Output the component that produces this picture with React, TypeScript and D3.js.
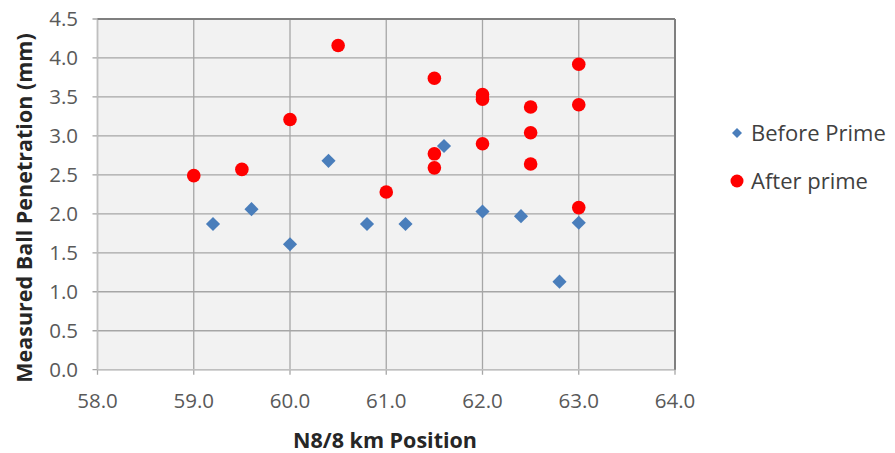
import React from "react";
import * as d3 from "d3";

const beforeX = [59.2, 59.6, 60.0, 60.4, 60.8, 61.2, 61.6, 62.0, 62.4, 62.8, 63.0];
const beforeY = [1.87, 2.06, 1.61, 2.68, 1.87, 1.87, 2.87, 2.03, 1.97, 1.13, 1.885];

const afterX = [59.0, 59.5, 60.0, 60.5, 61.0, 61.5, 61.5, 61.5, 62.0, 62.0, 62.0, 62.5, 62.5, 62.5, 63.0, 63.0, 63.0];
const afterY = [2.49, 2.57, 3.21, 4.16, 2.28, 3.74, 2.77, 2.59, 3.53, 3.47, 2.9, 3.37, 3.04, 2.64, 3.92, 3.4, 2.08];

const xTicks = [58, 59, 60, 61, 62, 63, 64];
const yTicks = [0, 0.5, 1, 1.5, 2, 2.5, 3, 3.5, 4, 4.5];

const seriesNames = ["Before Prime", "After prime"];
const xTitle = "N8/8 km Position";
const yTitle = "Measured Ball Penetration (mm)";

const W = 895;
const H = 453;
const left = 97.5;
const right = 675;
const top = 19;
const bottom = 369.7;

const FONT = "'Open Sans', 'Liberation Sans', sans-serif";

export default function App() {
  const x = d3.scaleLinear().domain([58, 64]).range([left, right]);
  const y = d3.scaleLinear().domain([0, 4.5]).range([bottom, top]);
  const square = d3.symbol().type(d3.symbolSquare).size(100)();
  const squareSmall = d3.symbol().type(d3.symbolSquare).size(50)();

  return (
    <svg width={W} height={H} style={{ position: "absolute", left: 0, top: 0, background: "#fff" }}>
      <rect x={left} y={top} width={right - left} height={bottom - top} fill="#f2f2f2" />
      {yTicks.map((t) => (
        <line key={"gy" + t} x1={left - 5} x2={right} y1={y(t)} y2={y(t)} stroke="#a6a6a6" strokeWidth={1.3} />
      ))}
      {xTicks.map((t) => (
        <line key={"gx" + t} x1={x(t)} x2={x(t)} y1={top} y2={bottom + 5} stroke="#a6a6a6" strokeWidth={1.3} />
      ))}
      <line x1={left} x2={right} y1={bottom} y2={bottom} stroke="#bfbfbf" strokeWidth={1.5} />
      <line x1={left} x2={left} y1={top} y2={bottom} stroke="#bfbfbf" strokeWidth={1.5} />
      <line x1={left} x2={right} y1={top} y2={top} stroke="#7f7f7f" strokeWidth={2} />
      <line x1={right} x2={right} y1={top} y2={bottom} stroke="#7f7f7f" strokeWidth={2} />

      {yTicks.map((t) => (
        <text key={"ly" + t} x={78} y={y(t)} dy="0.36em" textAnchor="end" fontFamily={FONT} fontSize={20.5} fill="#595959">
          {t.toFixed(1)}
        </text>
      ))}
      {xTicks.map((t) => (
        <text key={"lx" + t} x={x(t)} y={408} textAnchor="middle" fontFamily={FONT} fontSize={20.5} fill="#595959">
          {t.toFixed(1)}
        </text>
      ))}

      {beforeX.map((v, i) => (
        <path key={"b" + i} d={square} transform={`translate(${x(v)},${y(beforeY[i])}) rotate(45)`} fill="#4a7ebb" />
      ))}
      {afterX.map((v, i) => (
        <circle key={"a" + i} cx={x(v)} cy={y(afterY[i])} r={6.8} fill="#ff0000" />
      ))}

      <text x={385} y={448} textAnchor="middle" fontFamily={FONT} fontSize={21.5} fontWeight="bold" fill="#262626">
        {xTitle}
      </text>
      <text transform={`translate(32,208) rotate(-90)`} textAnchor="middle" fontFamily={FONT} fontSize={21.5} fontWeight="bold" fill="#262626">
        {yTitle}
      </text>

      <path d={squareSmall} transform="translate(737,133) rotate(45)" fill="#4a7ebb" />
      <text x={751} y={133} dy="0.36em" fontFamily={FONT} fontSize={22} fill="#404040">
        {seriesNames[0]}
      </text>
      <circle cx={737} cy={181} r={6.5} fill="#ff0000" />
      <text x={751} y={181} dy="0.36em" fontFamily={FONT} fontSize={22} fill="#404040">
        {seriesNames[1]}
      </text>
    </svg>
  );
}
